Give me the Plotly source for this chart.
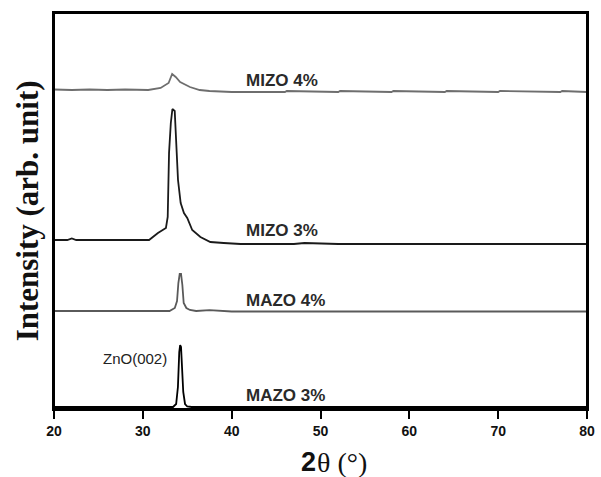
import plotly.graph_objects as go

# ---- data (2theta in degrees, intensity in arbitrary units, relative to each curve's baseline) ----
samples = ["MAZO 3%", "MAZO 4%", "MIZO 3%", "MIZO 4%"]
offsets = [2, 98, 168, 319]

mazo3_tt = [20, 24, 28, 32, 33.4, 33.75, 33.95, 34.1, 34.2, 34.3, 34.4, 34.55, 34.75, 35.0, 35.5, 40, 50, 60, 70, 80]
mazo3_i = [0, 0, 0, 0, 0, 3, 20, 55, 62, 60, 40, 15, 3, 0.5, 0, 0, 0, 0, 0, 0]

mazo4_tt = [20, 24, 28, 32, 33.0, 33.6, 33.85, 34.0, 34.15, 34.3, 34.45, 34.6, 34.9, 35.3, 36, 37.5, 40, 50, 60, 70, 80]
mazo4_i = [0, 0, 0, 0, 0, 3, 10, 28, 37, 37, 26, 8, 3, 1, 0, 0.8, -0.5, -0.5, -0.5, -0.5, -0.5]

mizo3_tt = [20, 21.5, 22.0, 22.5, 24, 26, 27.2, 30.7, 31.7, 32.6, 32.8, 32.85, 32.95, 33.15, 33.33, 33.59,
            33.81, 33.96, 34.26, 34.63, 35.0, 35.56, 36.48, 37.6, 39.1, 41, 47, 48.2, 52, 60, 70, 80]
mizo3_i = [1, 1, 2.5, 1, 1, 1, 1, 1, 8, 13, 24, 54, 88, 118, 132, 130,
           94, 61, 38, 28, 23, 11, 4, -1, -2, -3, -3, -2, -3, -3, -3, -3]

mizo4_tt = [20, 22, 24, 26, 28, 30, 30.6, 32.0, 32.9, 33.3, 33.7, 34.2, 35.3, 36.4, 37.5, 40,
            46, 46.2, 52, 52.2, 58, 58.2, 64, 64.2, 70, 70.2, 77, 77.2, 79, 80]
mizo4_i = [0.5, 0, 0.5, 0, 0.5, 0, 0, 2, 7, 16, 13, 8, 3, 0, -1, -2,
           -2, -1, -2, -1, -2, -1, -2, -1, -2, -1, -2, -1, -2, -2]

series_tt = [mazo3_tt, mazo4_tt, mizo3_tt, mizo4_tt]
series_i = [mazo3_i, mazo4_i, mizo3_i, mizo4_i]
colors = ["#000000", "#5a5a5a", "#1a1a1a", "#6e6e6e"]

label_x = 41.4
label_y = [14, 109, 179, 329]

x_ticks = [20, 30, 40, 50, 60, 70, 80]

fig = go.Figure()
for name, tt, inten, off, col in zip(samples, series_tt, series_i, offsets, colors):
    fig.add_trace(go.Scatter(x=tt, y=[v + off for v in inten], mode="lines",
                             line=dict(color=col, width=1.8), name=name, showlegend=False))

for name, ly in zip(samples, label_y):
    fig.add_annotation(x=label_x, y=ly, text="<b>" + name + "</b>", showarrow=False,
                       xanchor="left", yanchor="middle",
                       font=dict(family="Liberation Sans, Arial", size=17, color="#2a2a2a"))

fig.add_annotation(x=32.9, y=51, text="ZnO(002)", showarrow=False, xanchor="right", yanchor="middle",
                   font=dict(family="Liberation Sans, Arial", size=15, color="#222222"))

# x-axis title: bold sans "2" followed by serif "θ (°)"
fig.add_annotation(xref="paper", yref="paper", x=0.494, y=-0.134, showarrow=False,
                   xanchor="right", yanchor="middle", text="<b>2</b>", borderpad=0,
                   font=dict(family="Liberation Sans, Arial", size=27, color="#111111"))
fig.add_annotation(xref="paper", yref="paper", x=0.494, y=-0.134, showarrow=False,
                   xanchor="left", yanchor="middle", text="θ (°)", borderpad=0, xshift=-1,
                   font=dict(family="Liberation Serif, Times New Roman", size=28, color="#111111"))

# y-axis title as rotated annotation
fig.add_annotation(xref="paper", yref="paper", x=-0.05, y=0.5, showarrow=False,
                   xanchor="center", yanchor="middle", textangle=-90,
                   text="<b>Intensity (arb. unit)</b>",
                   font=dict(family="Liberation Serif, Times New Roman", size=31, color="#111111"))

# frame
fig.add_shape(type="rect", xref="paper", yref="paper", x0=0, y0=0, x1=1, y1=1,
              line=dict(color="black", width=2), fillcolor="rgba(0,0,0,0)", layer="above")

fig.update_layout(
    width=601, height=477,
    margin=dict(l=54, r=6, t=13, b=68),
    paper_bgcolor="white", plot_bgcolor="white",
    xaxis=dict(range=[20, 80], tickvals=x_ticks, ticktext=["<b>%d</b>" % t for t in x_ticks],
               ticks="outside", ticklen=8, tickwidth=1.5, tickcolor="black",
               showline=True, linecolor="black", linewidth=2, mirror=True,
               showgrid=False, zeroline=False, ticklabeloverflow="allow",
               tickfont=dict(family="Liberation Sans, Arial", size=14, color="#111111")),
    yaxis=dict(range=[0, 396], showticklabels=False, ticks="",
               showline=True, linecolor="black", linewidth=2, mirror=True,
               showgrid=False, zeroline=False),
)

fig.write_html("out.html")
